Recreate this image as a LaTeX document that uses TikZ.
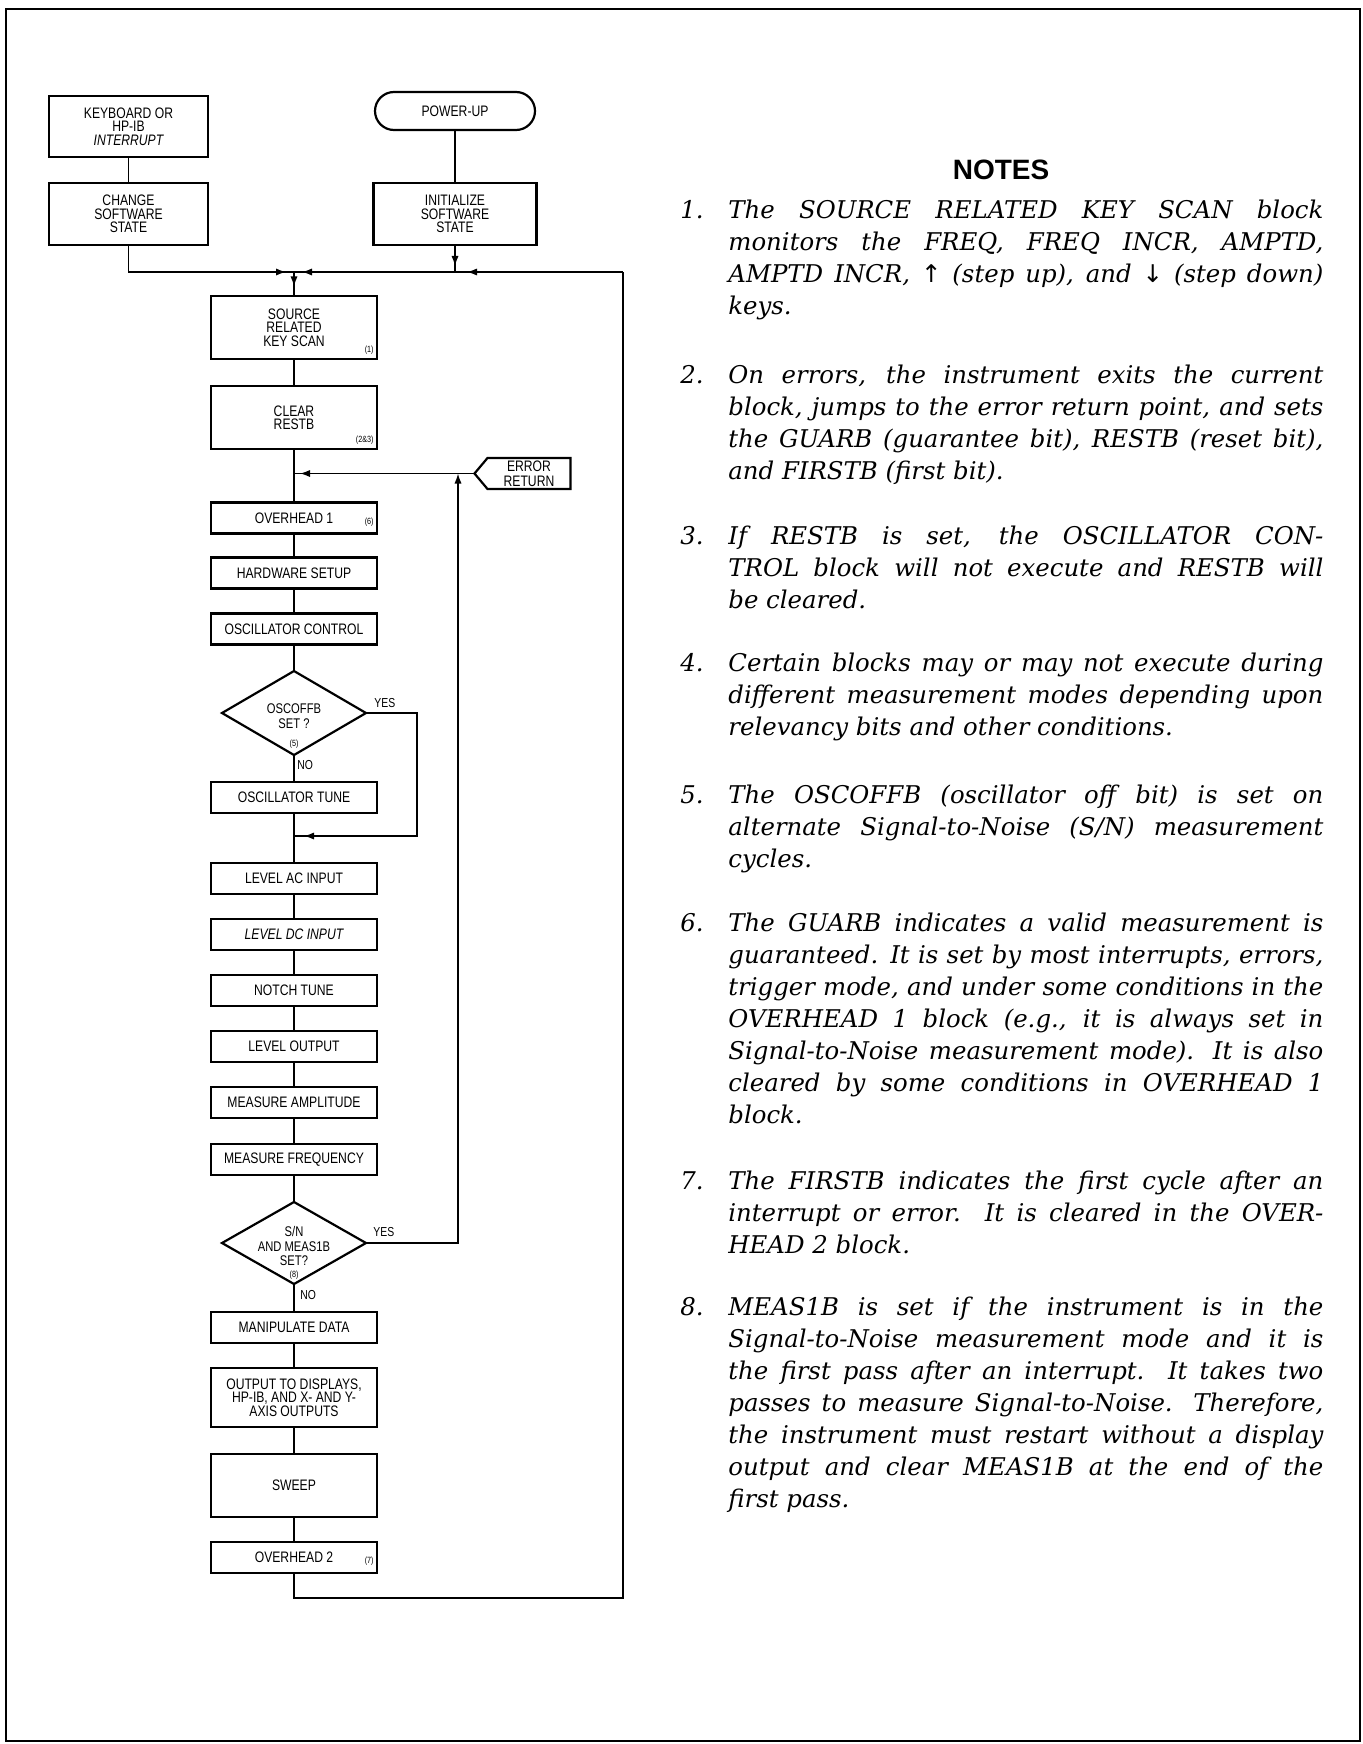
\documentclass[tikz,border=0pt]{standalone}
\usepackage{fontspec}
\setmainfont{DejaVu Serif}
\newfontfamily\flowfont[FakeStretch=0.8]{Liberation Sans}
\newfontfamily\noteheadfont{Liberation Sans}
\newfontfamily\symbfont{DejaVu Sans}
\usepackage{tikz}
\usetikzlibrary{positioning,arrows.meta,shapes.geometric,shapes.symbols,decorations.markings,calc}
% one numbered note, justified, with hanging number
\newcommand{\noteitem}[2]{\leftskip=24pt\rightskip=0pt\parfillskip=0pt plus 1fil
  \spaceskip=0pt\xspaceskip=0pt
  \hyphenpenalty=10000\exhyphenpenalty=10000
  \noindent\llap{\makebox[24pt][l]{#1}}#2\par}
\tikzset{
  block/.style={rectangle,draw,line width=1.1pt,outer sep=0pt,align=center,inner sep=1pt,minimum width=83pt,minimum height=15.5pt,font=\flowfont\fontsize{7.6pt}{6.7pt}\selectfont},
  bigblock/.style={block,minimum height=31.5pt},
  termblock/.style={block,rounded corners=9.5pt,minimum width=80pt,minimum height=19pt},
  decide/.style={diamond,draw,line width=1.1pt,outer sep=0pt,minimum width=72pt,minimum height=42pt,inner sep=0pt},
  decidetext/.style={align=center,inner sep=0pt,font=\flowfont\fontsize{7pt}{7.2pt}\selectfont},
  errblock/.style={signal,signal to=west,signal pointer angle=100,draw,line width=1.1pt,outer sep=0pt,align=center,inner sep=1pt,minimum width=48pt,minimum height=15.5pt,font=\flowfont\fontsize{7.6pt}{7.4pt}\selectfont},
  conn/.style={line width=0.7pt},
  tipat/.style={postaction={decorate,decoration={markings,mark=at position #1 with {\arrow{Latex[length=5pt,width=3.6pt]}}}}},
  branch/.style={inner sep=0pt,font=\flowfont\fontsize{6.5pt}{7pt}\selectfont},
  refno/.style={inner sep=0pt,font=\flowfont\fontsize{4.5pt}{5pt}\selectfont},
  note/.style={anchor=base west,inner sep=0pt,text width=321.5pt,align=justify,font=\fontsize{12.2pt}{16pt}\selectfont\itshape}
}
\begin{document}
\begin{tikzpicture}[x=0.5pt,y=-0.5pt,node distance=12.5pt]
  \useasboundingbox (0,0) rectangle (1362,1744);
  \draw[line width=1.2pt] (6,9) rectangle (1360,1741);

  % entry points
  \node[bigblock,minimum width=79.5pt,minimum height=30.5pt] (kbd) at (128.5,126.5) {KEYBOARD OR\\HP-IB\\\itshape INTERRUPT};
  \node[bigblock,minimum width=79.5pt,minimum height=31pt,below=13pt of kbd] (chg) {CHANGE\\SOFTWARE\\STATE};
  \node[termblock] (pwr) at (455,111) {POWER-UP};
  \node[bigblock,minimum width=81.5pt,minimum height=31pt,below=26.5pt of pwr] (init) {INITIALIZE\\SOFTWARE\\STATE};

  % main loop
  \node[bigblock] (src) at (294,327.5) {SOURCE\\RELATED\\KEY SCAN};
  \node[bigblock,below=13.5pt of src] (clr) {CLEAR\\RESTB};
  \node[block,below=26.75pt of clr] (oh1) {OVERHEAD 1};
  \node[block,below=12pt of oh1] (hw) {HARDWARE SETUP};
  \node[block,below=12.5pt of hw] (oscctl) {OSCILLATOR CONTROL};
  \node[decide,below=13.25pt of oscctl] (oscdec) {};
  \node[block,below=13.5pt of oscdec] (osctune) {OSCILLATOR TUNE};
  \node[block,below=25pt of osctune] (lvlac) {LEVEL AC INPUT};
  \node[block,below=of lvlac] (lvldc) {\itshape LEVEL DC INPUT};
  \node[block,below=of lvldc] (notch) {NOTCH TUNE};
  \node[block,below=of notch] (lvlout) {LEVEL OUTPUT};
  \node[block,below=of lvlout] (measamp) {MEASURE AMPLITUDE};
  \node[block,below=13pt of measamp] (measfreq) {MEASURE FREQUENCY};
  \node[decide,minimum height=41pt,below=13.5pt of measfreq] (sndec) {};
  \node[block,below=14pt of sndec] (manip) {MANIPULATE DATA};
  \node[block,minimum height=29.5pt,below=of manip] (outdisp) {OUTPUT TO DISPLAYS,\\HP-IB, AND X- AND Y-\\AXIS OUTPUTS};
  \node[bigblock,below=13.5pt of outdisp] (sweep) {SWEEP};
  \node[block,below=of sweep] (oh2) {OVERHEAD 2};
  \node[errblock] (err) at (529,473.5) {ERROR\\RETURN};

  % texts in the decisions
  \node[decidetext] (oscdect) at ([yshift=-1.5pt]oscdec.center) {OSCOFFB\\SET ?};
  \node[decidetext] (sndect) at ([yshift=-1.5pt]sndec.center) {S/N\\AND MEAS1B\\SET?};
  \node[branch,anchor=south west] (oscyesl) at ([xshift=4pt,yshift=2.5pt]oscdec.east) {YES};
  \node[branch,anchor=north west] (osconol) at ([xshift=1.5pt,yshift=-2.5pt]oscdec.south) {NO};
  \node[branch,anchor=south west] (snyesl) at ([xshift=3.5pt,yshift=3pt]sndec.east) {YES};
  \node[branch,anchor=north west] (snnol) at ([xshift=3pt,yshift=-3pt]sndec.south) {NO};

  % note numbers
  \node[refno,anchor=south east] (r1) at ([xshift=-1.5pt,yshift=2pt]src.south east) {(1)};
  \node[refno,anchor=south east] (r23) at ([xshift=-1.5pt,yshift=2pt]clr.south east) {(2\&3)};
  \node[refno,anchor=east] (r6) at ([xshift=-1.5pt,yshift=-2pt]oh1.east) {(6)};
  \node[refno,anchor=east] (r7) at ([xshift=-1.5pt,yshift=-2pt]oh2.east) {(7)};
  \node[refno] (r5) at ([yshift=5.5pt]oscdec.south) {(5)};
  \node[refno] (r8) at ([yshift=4.5pt]sndec.south) {(8)};

  % junctions
  \coordinate (jtop) at (294,272);
  \coordinate (jinit) at (init.south |- jtop);
  \coordinate (lptop) at (623,272);
  \coordinate (lpbot) at (623,1598);
  \coordinate (oscyes) at (417,836);
  \coordinate (snyes) at (458,473.5);

  \draw[conn] (kbd) -- (chg);
  \draw[conn] (pwr) -- (init);
  \draw[conn,tipat=-4pt] (chg.south) |- (jtop);
  \draw[conn,tipat=-3pt] (init.south) -- (jinit);
  \draw[conn,tipat=-6pt] (lptop) -- (jinit);
  \draw[conn,tipat=-4pt] (jinit) -- (jtop);
  \draw[conn,tipat=0.6] (jtop) -- (src.north);
  \draw[conn] (src) -- (clr);
  \draw[conn] (clr) -- (oh1);
  \draw[conn,tipat=-3pt] (err.west) -- (err.west -| src);
  \draw[conn] (oh1) -- (hw);
  \draw[conn] (hw) -- (oscctl);
  \draw[conn] (oscctl) -- (oscdec);
  \draw[conn] (oscdec) -- (osctune);
  \draw[conn,tipat=-5pt] (oscdec.east) -| (oscyes) -- (oscyes -| osctune);
  \draw[conn] (osctune) -- (lvlac);
  \draw[conn] (lvlac) -- (lvldc);
  \draw[conn] (lvldc) -- (notch);
  \draw[conn] (notch) -- (lvlout);
  \draw[conn] (lvlout) -- (measamp);
  \draw[conn] (measamp) -- (measfreq);
  \draw[conn] (measfreq) -- (sndec);
  \draw[conn,-{Latex[length=5pt,width=3.6pt]}] (sndec.east) -| (snyes);
  \draw[conn] (sndec) -- (manip);
  \draw[conn] (manip) -- (outdisp);
  \draw[conn] (outdisp) -- (sweep);
  \draw[conn] (sweep) -- (oh2);
  \draw[conn] (oh2.south) |- (lpbot) -- (lptop);

  % notes
  \node[font=\noteheadfont\bfseries\fontsize{14pt}{16pt}\selectfont] (nhead) at (1001,170) {NOTES};
  \node[note] (n1) at (680,219) {\noteitem{1.}{The SOURCE RELATED KEY SCAN block\linebreak
    monitors the FREQ, FREQ INCR, AMPTD,\linebreak
    AMPTD INCR, {\symbfont ↑} (step up), and {\symbfont ↓} (step down)\linebreak
    keys.}};
  \node[note] (n2) at (680,383) {\noteitem{2.}{On errors, the instrument exits the current\linebreak
    block, jumps to the error return point, and sets\linebreak
    the GUARB (guarantee bit), RESTB (reset bit),\linebreak
    and FIRSTB (first bit).}};
  \node[note] (n3) at (680,544) {\noteitem{3.}{If RESTB is set, the OSCILLATOR CON-\linebreak
    TROL block will not execute and RESTB will\linebreak
    be cleared.}};
  \node[note] (n4) at (680,671) {\noteitem{4.}{Certain blocks may or may not execute during\linebreak
    different measurement modes depending upon\linebreak
    relevancy bits and other conditions.}};
  \node[note] (n5) at (680,803) {\noteitem{5.}{The OSCOFFB (oscillator off bit) is set on\linebreak
    alternate Signal-to-Noise (S/N) measurement\linebreak
    cycles.}};
  \node[note] (n6) at (680,931) {\noteitem{6.}{The GUARB indicates a valid measurement is\linebreak
    guaranteed. It is set by most interrupts, errors,\linebreak
    trigger mode, and under some conditions in the\linebreak
    OVERHEAD 1 block (e.g., it is always set in\linebreak
    Signal-to-Noise measurement mode). It is also\linebreak
    cleared by some conditions in OVERHEAD 1\linebreak
    block.}};
  \node[note] (n7) at (680,1189) {\noteitem{7.}{The FIRSTB indicates the first cycle after an\linebreak
    interrupt or error. It is cleared in the OVER-\linebreak
    HEAD 2 block.}};
  \node[note] (n8) at (680,1315) {\noteitem{8.}{MEAS1B is set if the instrument is in the\linebreak
    Signal-to-Noise measurement mode and it is\linebreak
    the first pass after an interrupt. It takes two\linebreak
    passes to measure Signal-to-Noise. Therefore,\linebreak
    the instrument must restart without a display\linebreak
    output and clear MEAS1B at the end of the\linebreak
    first pass.}};
\end{tikzpicture}
\end{document}
